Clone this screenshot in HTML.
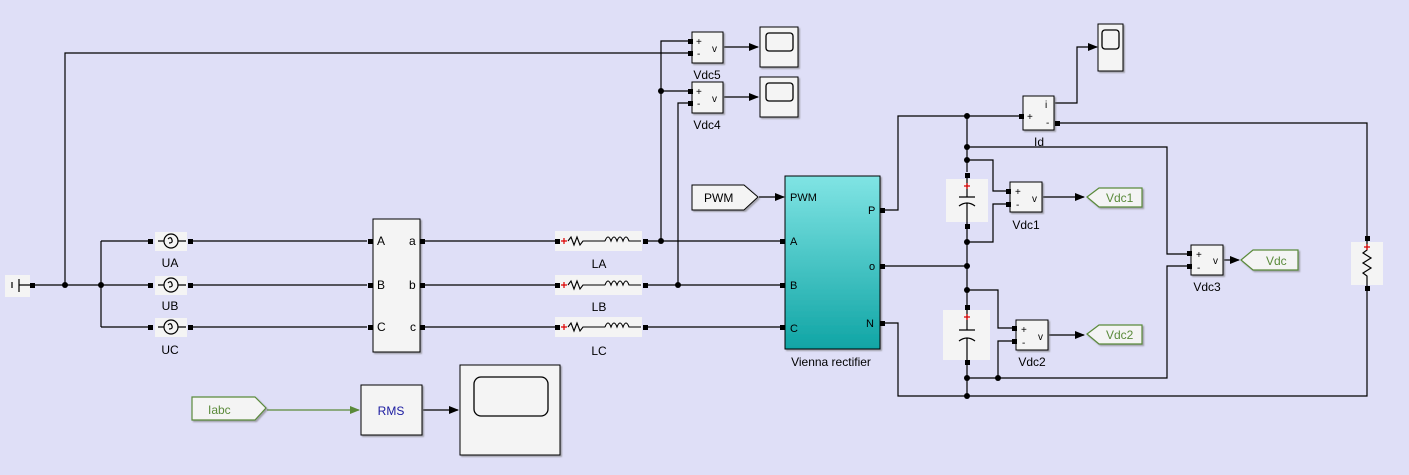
<!DOCTYPE html>
<html><head><meta charset="utf-8"><style>
body{margin:0;background:#dfdff7;}
svg{display:block;font-family:"Liberation Sans",sans-serif;}
</style></head><body>
<svg width="1409" height="475" viewBox="0 0 1409 475" xmlns="http://www.w3.org/2000/svg">
<defs>
<linearGradient id="tg" x1="0" y1="0" x2="0" y2="1"><stop offset="0" stop-color="#80e4e4"/><stop offset="1" stop-color="#10a5a5"/></linearGradient>
<marker id="ar" markerWidth="10" markerHeight="8" refX="9" refY="4" orient="auto" markerUnits="userSpaceOnUse"><path d="M0,0 L10,4 L0,8z" fill="#000"/></marker>
<marker id="ag" markerWidth="10" markerHeight="8" refX="9" refY="4" orient="auto" markerUnits="userSpaceOnUse"><path d="M0,0 L10,4 L0,8z" fill="#5a8a3a"/></marker>
<filter id="sh"><feDropShadow dx="1.5" dy="1.5" stdDeviation="0.8" flood-color="#777" flood-opacity="0.6"/></filter>
</defs>
<rect width="1409" height="475" fill="#dfdff7"/>
<g fill="none" stroke="#000" stroke-width="1.2">
<!-- left bus -->
<path d="M35,285 H150"/><path d="M65,285 V53 H688"/><path d="M101,241 V327"/>
<path d="M101,241 H150 M101,327 H150"/>
<path d="M191,241 H367 M191,285 H367 M191,327 H367"/>
<path d="M424,241 H556 M424,285 H556 M424,327 H556"/>
<path d="M647,241 H782 M647,285 H782 M647,327 H782"/>
<path d="M661,241 V41 H688 M661,91 H688"/><path d="M678,285 V103 H688"/>
<path d="M724,47 H758" marker-end="url(#ar)"/><path d="M724,97 H758" marker-end="url(#ar)"/>
<path d="M759,197 H784" marker-end="url(#ar)"/>
<!-- DC side -->
<path d="M884,210 H898 V116 H1020"/>
<path d="M1055,103 H1077 V47 H1097" marker-end="url(#ar)"/>
<path d="M1059,123 H1367 V236"/>
<path d="M967,116 V172 M967,228 V305 M967,363 V396"/>
<path d="M967,147 H1167 V254 H1188"/>
<path d="M967,160 H993 V191 H1007"/>
<path d="M967,242 H993 V204 H1007"/>
<path d="M884,266 H967"/>
<path d="M967,290 H998 V328 H1013"/>
<path d="M967,378 H1167 V266 H1188"/><path d="M998,378 V341 H1013"/>
<path d="M884,323 H898 V396 H1367 V290"/>
<path d="M1043,197 H1084" marker-end="url(#ar)"/>
<path d="M1049,335 H1084" marker-end="url(#ar)"/>
<path d="M1224,260 H1239" marker-end="url(#ar)"/>
<path d="M423,410 H458" marker-end="url(#ar)"/>
</g>
<path d="M267,410 H359" stroke="#5a8a3a" stroke-width="1.2" fill="none" marker-end="url(#ag)"/>
<g fill="#000">
<circle cx="65" cy="285" r="3"/><circle cx="101" cy="285" r="3"/><circle cx="661" cy="241" r="3"/><circle cx="661" cy="91" r="3"/><circle cx="678" cy="285" r="3"/>
<circle cx="967" cy="116" r="3"/><circle cx="967" cy="147" r="3"/><circle cx="967" cy="160" r="3"/><circle cx="967" cy="242" r="3"/><circle cx="967" cy="266" r="3"/><circle cx="967" cy="290" r="3"/><circle cx="967" cy="378" r="3"/><circle cx="998" cy="378" r="3"/><circle cx="967" cy="396" r="3"/>
</g>
<!-- ground -->
<rect x="5" y="275" width="25" height="22" fill="#f4f4f4"/>
<path d="M12,282 V288 M19,279 V292 M19,285 H30" stroke="#000" stroke-width="1.2"/>
<rect x="30" y="283" width="5" height="5" fill="#000"/>
<!-- sources -->
<g stroke="#000" stroke-width="1.2" fill="none">
<g id="src"><rect x="155" y="232" width="32" height="19" fill="#f4f4f4" stroke="none"/><circle cx="171" cy="241" r="7"/><path d="M158,241 H164 M178,241 H186 M168,239 q3,-3 4,1 q1,3 -3,3"/></g>
</g>
<g stroke="#000" stroke-width="1.2" fill="none">
<rect x="155" y="276" width="32" height="19" fill="#f4f4f4" stroke="none"/><circle cx="171" cy="285" r="7"/><path d="M158,285 H164 M178,285 H186 M168,283 q3,-3 4,1 q1,3 -3,3"/>
<rect x="155" y="318" width="32" height="19" fill="#f4f4f4" stroke="none"/><circle cx="171" cy="327" r="7"/><path d="M158,327 H164 M178,327 H186 M168,325 q3,-3 4,1 q1,3 -3,3"/>
</g>
<g fill="#000"><rect x="148" y="239" width="5" height="5"/><rect x="188" y="239" width="5" height="5"/><rect x="148" y="283" width="5" height="5"/><rect x="188" y="283" width="5" height="5"/><rect x="148" y="325" width="5" height="5"/><rect x="188" y="325" width="5" height="5"/></g>
<g font-size="12" text-anchor="middle" fill="#000"><text x="170" y="267">UA</text><text x="170" y="310">UB</text><text x="170" y="354">UC</text></g>
<!-- transformer-like block -->
<rect x="373" y="219" width="47" height="133" fill="#f4f4f4" stroke="#000" filter="url(#sh)"/>
<g font-size="12"><text x="377" y="245">A</text><text x="377" y="289">B</text><text x="377" y="331">C</text><text x="409" y="245">a</text><text x="409" y="289">b</text><text x="410" y="331">c</text></g>
<g fill="#000"><rect x="368" y="239" width="5" height="5"/><rect x="368" y="283" width="5" height="5"/><rect x="368" y="325" width="5" height="5"/><rect x="420" y="239" width="5" height="5"/><rect x="420" y="283" width="5" height="5"/><rect x="420" y="325" width="5" height="5"/></g>
<!-- inductors -->
<g stroke="#000" stroke-width="1.1" fill="none">
<rect x="555" y="231" width="87" height="20" fill="#f4f4f4" stroke="none"/>
<rect x="555" y="275" width="87" height="20" fill="#f4f4f4" stroke="none"/>
<rect x="555" y="317" width="87" height="20" fill="#f4f4f4" stroke="none"/>
<path d="M568,241 l3,-4 3,8 3,-8 3,8 3,-4 H605 M632,241 h9 M605,241 q3,-8 6,0 q3,-8 6,0 q3,-8 6,0 q3,-8 6,0 h3"/>
<path d="M568,285 l3,-4 3,8 3,-8 3,8 3,-4 H605 M632,285 h9 M605,285 q3,-8 6,0 q3,-8 6,0 q3,-8 6,0 q3,-8 6,0 h3"/>
<path d="M568,327 l3,-4 3,8 3,-8 3,8 3,-4 H605 M632,327 h9 M605,327 q3,-8 6,0 q3,-8 6,0 q3,-8 6,0 q3,-8 6,0 h3"/>
</g>
<g stroke="#d00" stroke-width="1.2"><path d="M561,241 h6 M564,238 v6 M561,285 h6 M564,282 v6 M561,327 h6 M564,324 v6"/></g>
<g fill="#000"><rect x="555" y="239" width="5" height="5"/><rect x="643" y="239" width="5" height="5"/><rect x="555" y="283" width="5" height="5"/><rect x="643" y="283" width="5" height="5"/><rect x="555" y="325" width="5" height="5"/><rect x="643" y="325" width="5" height="5"/></g>
<g font-size="12" text-anchor="middle"><text x="599" y="268">LA</text><text x="599" y="311">LB</text><text x="599" y="355">LC</text></g>
<!-- Vdc5/Vdc4 -->
<rect x="692" y="32" width="31" height="31" fill="#f4f4f4" stroke="#000" filter="url(#sh)"/>
<rect x="692" y="82" width="31" height="31" fill="#f4f4f4" stroke="#000" filter="url(#sh)"/>
<g font-size="10"><text x="696" y="45">+</text><text x="697" y="57">-</text><text x="712" y="52">v</text><text x="696" y="95">+</text><text x="697" y="107">-</text><text x="712" y="102">v</text></g>
<g fill="#000"><rect x="688" y="39" width="5" height="5"/><rect x="688" y="51" width="5" height="5"/><rect x="688" y="89" width="5" height="5"/><rect x="688" y="101" width="5" height="5"/></g>
<g font-size="12" text-anchor="middle"><text x="707" y="79">Vdc5</text><text x="707" y="129">Vdc4</text></g>
<rect x="760" y="27" width="38" height="40" fill="#f4f4f4" stroke="#000" filter="url(#sh)"/>
<rect x="766" y="33" width="27" height="18" rx="3" fill="none" stroke="#000" stroke-width="1.3"/>
<rect x="760" y="77" width="38" height="40" fill="#f4f4f4" stroke="#000" filter="url(#sh)"/>
<rect x="766" y="83" width="27" height="18" rx="3" fill="none" stroke="#000" stroke-width="1.3"/>
<!-- PWM goto -->
<path d="M692,185 H744 L758,197 L744,210 H692z" fill="#f4f4f4" stroke="#000" filter="url(#sh)"/>
<text x="704" y="202" font-size="12">PWM</text>
<!-- Vienna -->
<rect x="785" y="176" width="95" height="173" fill="url(#tg)" stroke="#000" filter="url(#sh)"/>
<g font-size="11"><text x="790" y="201">PWM</text><text x="790" y="245">A</text><text x="790" y="289">B</text><text x="790" y="332">C</text><text x="868" y="214">P</text><text x="869" y="270">o</text><text x="866" y="327">N</text></g>
<g fill="#000"><rect x="780" y="239" width="5" height="5"/><rect x="780" y="283" width="5" height="5"/><rect x="780" y="325" width="5" height="5"/><rect x="880" y="208" width="5" height="5"/><rect x="880" y="264" width="5" height="5"/><rect x="880" y="321" width="5" height="5"/></g>
<text x="831" y="366" font-size="12" text-anchor="middle">Vienna rectifier</text>
<!-- Id -->
<rect x="1023" y="96" width="31" height="34" fill="#f4f4f4" stroke="#000" filter="url(#sh)"/>
<g font-size="10"><text x="1027" y="120">+</text><text x="1045" y="108">i</text><text x="1046" y="126">-</text></g>
<rect x="1019" y="114" width="5" height="5" fill="#000"/><rect x="1055" y="121" width="5" height="5" fill="#000"/>
<text x="1039" y="146" font-size="12" text-anchor="middle">Id</text>
<rect x="1098" y="24" width="25" height="47" fill="#f4f4f4" stroke="#000" filter="url(#sh)"/>
<rect x="1102" y="30" width="17" height="19" rx="3" fill="none" stroke="#000" stroke-width="1.3"/>
<!-- capacitors -->
<rect x="946" y="179" width="42" height="43" fill="#f4f4f4"/>
<rect x="943" y="310" width="47" height="50" fill="#f4f4f4"/>
<g stroke="#000" stroke-width="1.2" fill="none">
<path d="M967,175 V197 M959,197 H975 M959,206 q8,-6 16,0 M967,203 V226"/>
<path d="M967,308 V330 M959,330 H975 M959,341 q8,-6 16,0 M967,338 V361"/>
</g>
<g stroke="#d00" stroke-width="1.2"><path d="M964,186 h6 M967,183 v6 M964,317 h6 M967,314 v6"/></g>
<g fill="#000"><rect x="965" y="173" width="5" height="5"/><rect x="965" y="224" width="5" height="5"/><rect x="965" y="305" width="5" height="5"/><rect x="965" y="360" width="5" height="5"/></g>
<!-- Vdc1,2,3 -->
<rect x="1010" y="182" width="32" height="30" fill="#f4f4f4" stroke="#000" filter="url(#sh)"/>
<rect x="1016" y="320" width="32" height="30" fill="#f4f4f4" stroke="#000" filter="url(#sh)"/>
<rect x="1191" y="245" width="32" height="30" fill="#f4f4f4" stroke="#000" filter="url(#sh)"/>
<g font-size="10"><text x="1015" y="195">+</text><text x="1016" y="208">-</text><text x="1032" y="202">v</text>
<text x="1021" y="333">+</text><text x="1022" y="346">-</text><text x="1038" y="340">v</text>
<text x="1196" y="258">+</text><text x="1197" y="271">-</text><text x="1213" y="264">v</text></g>
<g fill="#000"><rect x="1006" y="189" width="5" height="5"/><rect x="1006" y="202" width="5" height="5"/><rect x="1012" y="326" width="5" height="5"/><rect x="1012" y="339" width="5" height="5"/><rect x="1187" y="251" width="5" height="5"/><rect x="1187" y="264" width="5" height="5"/></g>
<g font-size="12" text-anchor="middle"><text x="1026" y="229">Vdc1</text><text x="1032" y="366">Vdc2</text><text x="1207" y="291">Vdc3</text></g>
<!-- green gotos -->
<g fill="#f4f4f4" stroke="#5a8a3a" stroke-width="1.2" filter="url(#sh)">
<path d="M1087,197 L1099,188 H1142 V207 H1099z"/>
<path d="M1087,334 L1099,325 H1142 V344 H1099z"/>
<path d="M1241,260 L1253,250 H1298 V270 H1253z"/>
<path d="M192,397 H255 L266,408 L255,420 H192z"/>
</g>
<g font-size="12" fill="#5a8a3a"><text x="1106" y="202">Vdc1</text><text x="1106" y="339">Vdc2</text><text x="1266" y="265">Vdc</text><text x="208" y="414">Iabc</text></g>
<!-- resistor -->
<rect x="1351" y="242" width="32" height="43" fill="#f4f4f4"/>
<path d="M1367,240 V250 l-4,3 8,5 -8,5 8,5 -8,5 4,3 V287" stroke="#000" stroke-width="1.2" fill="none"/>
<path d="M1364,247 h6 M1367,244 v6" stroke="#d00" stroke-width="1.2"/>
<rect x="1365" y="236" width="5" height="5" fill="#000"/><rect x="1365" y="286" width="5" height="5" fill="#000"/>
<!-- RMS & scope -->
<rect x="361" y="385" width="61" height="50" fill="#f4f4f4" stroke="#000" filter="url(#sh)"/>
<text x="391" y="415" font-size="12" text-anchor="middle" fill="#1a1aa0">RMS</text>
<rect x="460" y="365" width="100" height="90" fill="#f4f4f4" stroke="#000" filter="url(#sh)"/>
<rect x="474" y="377" width="74" height="39" rx="7" fill="none" stroke="#000" stroke-width="1.3"/>
</svg>
</body></html>
